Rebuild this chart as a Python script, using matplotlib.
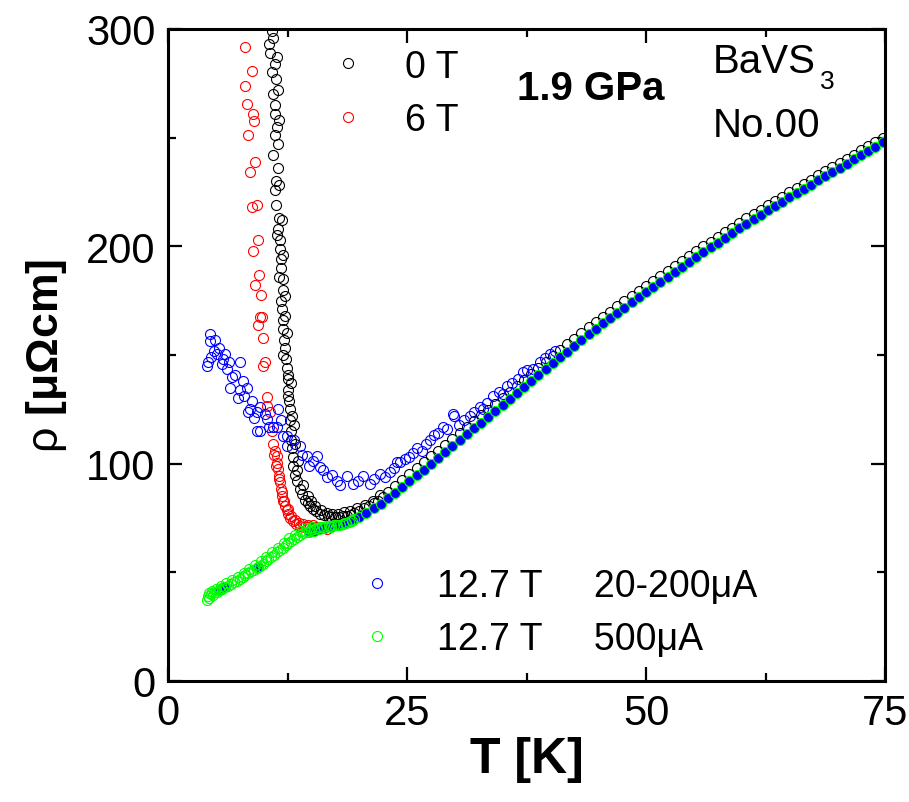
import matplotlib
matplotlib.use('Agg')
import matplotlib.pyplot as plt
from matplotlib.ticker import MultipleLocator

plt.rcParams['font.family'] = ['Liberation Sans', 'DejaVu Sans']
plt.rcParams['mathtext.fontset'] = 'custom'
plt.rcParams['mathtext.rm'] = 'Liberation Sans'

# 0 T (schwarz)
t_0T = [10.9, 10.6, 10.7, 11.2, 11.3, 11.0, 11.2, 11.2, 11.4, 11.2, 11.0, 11.5, 11.3, 11.2, 11.3, 11.6,
        11.5, 11.7, 11.7, 11.8, 11.8, 12.0, 12.0, 11.8, 11.9, 12.0, 12.0, 12.1, 12.2, 12.3, 12.4, 12.5,
        12.6, 12.7, 12.8, 12.8, 12.9, 12.9, 13.0, 13.1, 13.1, 13.3, 13.5, 13.8, 14.0, 14.3, 14.6, 14.9,
        15.2, 15.5, 15.9, 16.3, 16.7, 17.1, 17.5, 17.9, 18.3, 18.7, 19.1, 19.5, 20.0, 20.5, 21.0, 21.5,
        22.0, 22.5,
        11.0, 11.4, 10.9, 11.5, 11.6, 11.5, 11.6, 11.9, 11.4, 12.0, 11.6, 12.2, 12.2, 12.4, 12.0, 12.6,
        12.9, 12.5, 13.0, 13.2, 13.3, 13.6, 13.5, 14.1, 14.6, 15.0, 15.4, 16.0, 16.6, 17.2, 17.8, 18.4,
        19.0, 19.8, 20.6, 21.4, 22.2,
        23.0, 23.75, 24.5, 25.25, 26.0, 26.75, 27.5, 28.25, 29.0, 29.75, 30.5, 31.25, 32.0, 32.75, 33.5,
        34.25, 35.0, 35.75, 36.5, 37.25, 38.0, 38.75, 39.5, 40.25, 41.0, 41.75, 42.5, 43.25, 44.0, 44.75,
        45.5, 46.25, 47.0, 47.75, 48.5, 49.25, 50.0, 50.75, 51.5, 52.25, 53.0, 53.75, 54.5, 55.25, 56.0,
        56.75, 57.5, 58.25, 59.0, 59.75, 60.5, 61.25, 62.0, 62.75, 63.5, 64.25, 65.0, 65.75, 66.5, 67.25,
        68.0, 68.75, 69.5, 70.25, 71.0, 71.75, 72.5, 73.25, 74.0, 74.75]
rho_0T = [299, 293, 289, 284, 277, 270, 265, 261, 255, 251, 242, 236, 230, 226, 219, 213,
          208, 203, 199, 194, 190, 185, 180, 175, 171, 166, 162, 157, 153, 148, 144, 139,
          134, 129, 125, 120, 115, 111, 107, 103, 99, 95, 92, 88.5, 86, 83.5, 82, 80.5,
          79, 78, 77, 76.3, 75.8, 75.5, 75.5, 75.6, 75.8, 76, 76.6, 77.2, 78.2, 79.4, 80.6, 81.8,
          83.0, 84.8,
          296, 287, 280, 272, 258, 247, 228, 212, 205, 196, 186, 177, 168, 160, 150, 141,
          137, 131, 122, 118, 109, 101, 97, 90, 85, 83, 80.5, 78.5, 77.5, 76.8, 76.9, 77.6,
          78.4, 79.8, 81.0, 83.0, 85.5,
          87.0, 89.8, 92.5, 95.2, 97.9, 100.6, 103.3, 106.0, 108.7, 111.4, 114.1, 116.8, 119.5, 122.2, 124.9,
          127.6, 130.3, 133.1, 135.9, 138.6, 141.4, 144.2, 146.9, 149.7, 152.3, 154.9, 157.5, 160.1, 162.7, 165.2,
          167.6, 170.0, 172.4, 174.8, 177.1, 179.5, 181.8, 184.1, 186.4, 188.7, 191.0, 193.3, 195.5, 197.8, 200.0,
          202.1, 204.3, 206.4, 208.6, 210.8, 212.9, 214.9, 216.9, 218.9, 220.9, 222.9, 224.8, 226.8, 228.7, 230.7,
          232.6, 234.5, 236.4, 238.4, 240.3, 242.2, 244.1, 246.1, 248.0, 249.9]

# 6 T (rot)
t_6T = [8.05, 8.8, 8.05, 8.3, 8.9, 9.0, 8.4, 9.1, 8.6, 9.3, 8.8, 9.4, 8.9, 9.5, 9.1, 9.7, 9.8, 9.6, 9.4,
        9.9, 10.1, 9.9, 10.4, 10.7, 10.4, 10.9, 11.0, 11.2, 11.4, 11.4, 11.5, 11.6, 11.7, 11.8, 11.9, 12.0,
        12.2, 12.4, 12.6, 12.8, 13.1, 13.4, 13.8, 14.2, 14.6, 14.9, 15.4, 15.9, 16.3, 16.6,
        11.1, 11.3, 11.6, 11.9, 12.1, 12.5, 12.9, 13.3, 13.7, 14.1, 14.6, 15.2]
rho_6T = [291.8, 280.7, 274, 265.5, 261, 257.7, 251, 239, 234, 219, 218, 203, 198, 187, 182, 177.6, 167.5,
          167.5, 164, 157.8, 147, 145, 130.7, 123.8, 126.5, 115, 109, 106, 103.5, 100.5, 97.6, 94.5, 91.6,
          88.3, 85, 82.7, 80.5, 78.5, 76.9, 75.2, 73.6, 72.3, 71.3, 71.0, 70.8, 70.9, 70.8, 70.9, 70.3, 70.0,
          104, 99, 93, 87, 83, 79, 76, 74, 72.8, 72.2, 72.0, 71.8]

# 12.7 T, 20-200 uA (blau, offen)
t_blue = [4.4, 4.4, 4.9, 4.2, 4.1, 4.5, 5.1, 5.6, 6.0, 6.2, 6.7, 7.5, 6.5, 7.5, 8.3, 7.3, 8.4, 9.6, 9.3,
          10.4, 11.5, 11.4, 12.4, 8.6, 9.3, 10.1, 9.6, 11.0, 12.0, 12.4, 13.8, 14.5, 15.6, 15.9, 16.6, 17.7,
          18.7, 19.4, 20.4, 21.1, 22.2, 23.2, 24.0, 24.3, 25.6, 27.4, 28.8, 29.8, 29.9, 31.6, 33.4, 35.5,
          37.1, 38.9, 40.0,
          4.8, 5.3, 5.8, 6.4, 7.0, 7.8, 8.0, 8.8, 9.0, 10.6, 11.8, 13.2, 14.0, 14.8, 15.2, 16.2, 17.2, 18.0,
          19.9, 21.6, 22.7, 23.6, 24.8, 25.2, 26.0, 26.6, 27.0, 27.8, 28.2, 29.2, 30.4, 31.0, 32.0, 32.6,
          33.0, 34.0, 34.6, 35.0, 36.0, 36.6, 37.6, 38.2, 39.4, 40.5]
rho_blue = [159.7, 156.5, 157, 147, 145, 149, 150.5, 146, 150.5, 143.6, 140, 147, 135, 134, 135, 130, 124,
            126, 115, 120.6, 125, 117, 112.7, 125, 124, 123, 115, 117, 112.7, 108, 108, 103.5, 103.5, 98.5,
            94, 92, 94.3, 90.7, 94.3, 90.7, 95.3, 96, 100.8, 100.8, 105, 111, 117, 122.9, 122, 122, 128,
            135.8, 142, 146.8, 150.5,
            152, 153, 148, 147, 141, 138, 131, 129, 121, 117, 120, 111, 104, 99, 101, 97, 95, 90,
            92, 93, 94, 98, 102, 103, 107, 106, 109, 113, 114, 116, 118, 120, 124, 126,
            125, 131, 133, 132, 137, 139, 143, 143.5, 148.5, 152]

# gefuellte Punkte (blau mit gruenem Rand)
t_fill = [5.3, 5.6, 5.9, 9.4, 14.8, 15.3, 15.8, 16.3,
          17.0, 17.75, 18.5, 19.25, 20.0, 20.75, 21.5, 22.25, 23.0, 23.75, 24.5, 25.25, 26.0, 26.75, 27.5,
          28.25, 29.0, 29.75, 30.5, 31.25, 32.0, 32.75, 33.5, 34.25, 35.0, 35.75, 36.5, 37.25, 38.0, 38.75,
          39.5, 40.25, 41.0, 41.75, 42.5, 43.25, 44.0, 44.75, 45.5, 46.25, 47.0, 47.75, 48.5, 49.25, 50.0,
          50.75, 51.5, 52.25, 53.0, 53.75, 54.5, 55.25, 56.0, 56.75, 57.5, 58.25, 59.0, 59.75, 60.5, 61.25,
          62.0, 62.75, 63.5, 64.25, 65.0, 65.75, 66.5, 67.25, 68.0, 68.75, 69.5, 70.25, 71.0, 71.75, 72.5,
          73.25, 74.0, 74.75]
rho_fill = [42.0, 42.6, 43.2, 52.5, 68.5, 69.2, 69.8, 70.3,
            71.0, 71.8, 72.8, 74.0, 75.5, 77.4, 79.4, 81.6, 84.0, 86.6, 89.3, 91.9, 94.6, 97.3, 100.0,
            102.7, 105.4, 108.1, 110.8, 113.5, 116.2, 118.9, 121.6, 124.3, 127.0, 129.8, 132.6, 135.3, 138.1,
            140.9, 143.6, 146.4, 149.0, 151.6, 154.3, 156.9, 159.5, 162.1, 164.6, 167.0, 169.4, 171.8, 174.2,
            176.6, 179.0, 181.3, 183.6, 186.0, 188.3, 190.6, 192.9, 195.2, 197.4, 199.5, 201.7, 203.9, 206.1,
            208.3, 210.4, 212.4, 214.4, 216.5, 218.5, 220.5, 222.5, 224.5, 226.4, 228.4, 230.3, 232.3, 234.2,
            236.2, 238.1, 240.1, 242.0, 244.0, 245.9, 247.9]

# 12.7 T, 500 uA (gruen, offen)
t_green = [4.1, 4.2, 4.3, 4.5, 4.7, 4.9, 5.1, 5.4, 5.7, 6.0, 6.3, 6.6, 6.9, 7.2, 7.5, 7.8, 8.1, 8.4, 8.7,
           9.0, 9.3, 9.6, 9.9, 10.2, 10.5, 10.8, 11.1, 11.4, 11.7, 12.0, 12.3, 12.6, 12.9, 13.2, 13.5, 13.8,
           14.1, 14.4, 14.7, 15.0, 15.3, 15.6, 15.9, 16.2, 16.5, 16.8, 17.1, 17.4, 17.7, 18.0, 18.3, 18.6,
           18.9, 19.2, 19.5,
           4.3, 4.6, 5.0, 5.5, 6.1, 6.7, 7.3, 7.9, 8.5, 9.1, 9.7, 10.3, 10.9, 11.5, 12.1, 12.7, 13.3, 13.9,
           14.5, 15.1]
rho_green = [37.5, 39.0, 38.2, 40.0, 39.5, 41.0, 40.8, 41.8, 42.5, 43.2, 43.6, 44.6, 45.4, 46.2, 46.8, 47.8,
             48.6, 49.5, 50.4, 51.2, 52.0, 53.0, 54.0, 55.0, 56.0, 57.2, 58.2, 59.3, 60.4, 61.4, 62.5, 63.6,
             64.6, 65.5, 66.4, 67.2, 68.0, 68.6, 69.2, 69.7, 70.1, 70.5, 70.8, 71.0, 71.2, 71.3, 71.4, 71.6,
             71.8, 72.0, 72.3, 72.7, 73.2, 73.8, 74.4,
             40.5, 41.5, 42.5, 43.8, 45.2, 46.6, 48.0, 49.8, 51.6, 53.4, 55.2, 57.2, 59.3, 61.4, 63.5, 65.6,
             67.4, 68.9, 70.2, 71.0]

ms = 7.2
mew = 0.8

fig = plt.figure(figsize=(9.09, 8.03), dpi=100)
ax = fig.add_axes([168 / 909, 1 - 682 / 803, 717 / 909, 652 / 803])

l6, = ax.plot(t_6T, rho_6T, 'o', ms=ms, mfc='none', mec='#ff0000', mew=mew, label='6 T')
l0, = ax.plot(t_0T, rho_0T, 'o', ms=ms, mfc='none', mec='black', mew=mew, label='0 T')
lb, = ax.plot(t_blue, rho_blue, 'o', ms=ms, mfc='none', mec='#0000ff', mew=mew,
              label='12.7 T     20-200\u03bcA')
ax.plot(t_fill, rho_fill, 'o', ms=ms, mfc='#0000ff', mec='#00ff00', mew=mew)
lg, = ax.plot(t_green, rho_green, 'o', ms=ms, mfc='none', mec='#00ff00', mew=mew,
              label='12.7 T     500\u03bcA')

ax.set_xlim(0, 75)
ax.set_ylim(0, 300)
ax.xaxis.set_major_locator(MultipleLocator(25))
ax.xaxis.set_minor_locator(MultipleLocator(12.5))
ax.yaxis.set_major_locator(MultipleLocator(100))
ax.yaxis.set_minor_locator(MultipleLocator(50))
ax.tick_params(which='both', direction='in', top=True, right=True, width=1.6, labelsize=30)
ax.tick_params(which='major', length=10, pad=9)
ax.tick_params(which='minor', length=6)
for s in ax.spines.values():
    s.set_linewidth(2.2)

ax.set_xlabel('T [K]', fontsize=36, fontweight='bold', labelpad=2)
ax.set_ylabel('$\\mathrm{\\rho}$ [\u03bc\u03a9cm]', fontsize=32, fontweight='bold', labelpad=12)

leg1 = ax.legend(handles=[l0, l6], loc='upper left', bbox_to_anchor=(17.3, 291.0),
                 bbox_transform=ax.transData, frameon=False, fontsize=27, numpoints=1,
                 handlelength=0.8, handletextpad=1.12, labelspacing=0.46, borderpad=0, borderaxespad=0)
ax.add_artist(leg1)
ax.legend(handles=[lb, lg], loc='upper left', bbox_to_anchor=(20.3, 52.0),
          bbox_transform=ax.transData, frameon=False, fontsize=27, numpoints=1,
          handlelength=0.8, handletextpad=1.2, labelspacing=0.46, borderpad=0, borderaxespad=0)

ax.text(36.5, 272.9, '1.9 GPa', fontsize=29, fontweight='bold', va='center', ha='left')
ax.text(57.0, 280.0, 'BaVS', fontsize=29, va='baseline', ha='left')
ax.text(68.2, 276.1, '3', fontsize=19, va='center', ha='left')
ax.text(57.0, 250.8, 'No.00', fontsize=29, va='baseline', ha='left')

fig.savefig('out.png', dpi=100)
